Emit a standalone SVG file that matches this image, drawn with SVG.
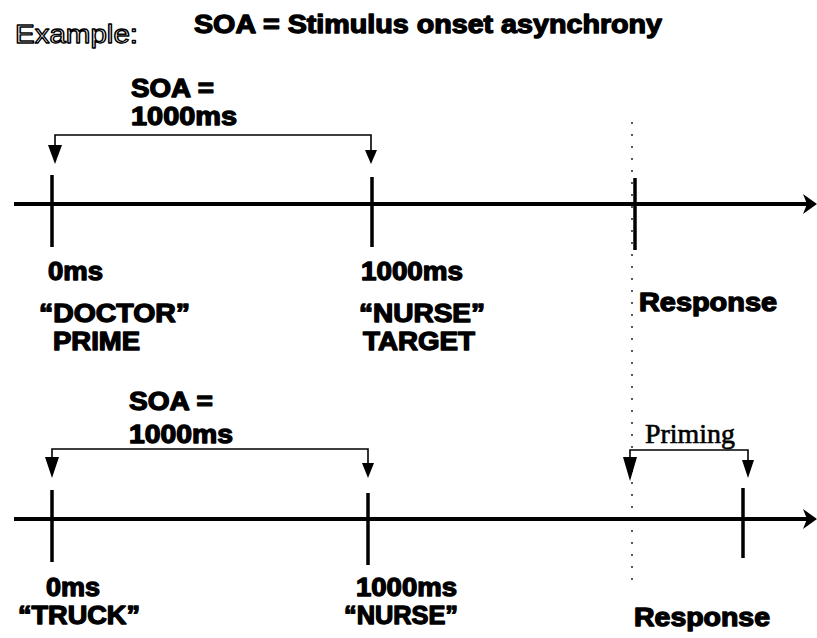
<svg xmlns="http://www.w3.org/2000/svg" width="817" height="638" viewBox="0 0 817 638">
<style>
.b{font-family:"Liberation Sans",Arial,sans-serif;font-weight:bold;font-size:25px;fill:#000;stroke:#000;stroke-width:1.3;stroke-linejoin:round}
.o{font-family:"Liberation Sans",Arial,sans-serif;font-size:25px;fill:#fff;stroke:#000;stroke-width:1.3;stroke-linejoin:round}
.s{font-family:"Liberation Serif","Times New Roman",serif;font-size:27px;fill:#000;stroke:#000;stroke-width:0.6}
.axis{stroke:#000;stroke-width:4;fill:none}
.tick{stroke:#000;stroke-width:3.5;fill:none}
.br{stroke:#000;stroke-width:1.6;fill:none}
.dot{stroke:#000;stroke-width:1.3;stroke-dasharray:2 10;fill:none}
.ah{fill:#000}
</style>
<rect width="817" height="638" fill="#fff"/>
<g id="header">
<text class="o" x="15" y="43" textLength="123" lengthAdjust="spacingAndGlyphs">Example:</text>
<text class="b" x="194" y="33" textLength="468" lengthAdjust="spacingAndGlyphs">SOA = Stimulus onset asynchrony</text>
</g>
<g id="timeline1">
<line class="axis" x1="14" y1="204" x2="808" y2="204"/>
<polygon class="ah" points="803,194 817,204 803,214 807,204"/>
<line class="tick" x1="52" y1="175" x2="52" y2="247"/>
<line class="tick" x1="372" y1="177" x2="372" y2="247"/>
<line class="tick" x1="635" y1="178" x2="635" y2="250"/>
</g>
<g id="timeline2">
<line class="axis" x1="14" y1="519" x2="808" y2="519"/>
<polygon class="ah" points="803,509 817,519 803,529 807,519"/>
<line class="tick" x1="52" y1="490" x2="52" y2="562"/>
<line class="tick" x1="368" y1="493" x2="368" y2="565"/>
<line class="tick" x1="743" y1="488" x2="743" y2="558"/>
</g>
<g id="labels1">
<text class="b" x="131" y="97" textLength="83" lengthAdjust="spacingAndGlyphs">SOA =</text>
<text class="b" x="131" y="125" textLength="106" lengthAdjust="spacingAndGlyphs">1000ms</text>
<text class="b" x="48" y="280" textLength="55" lengthAdjust="spacingAndGlyphs">0ms</text>
<text class="b" x="361" y="280" textLength="102" lengthAdjust="spacingAndGlyphs">1000ms</text>
<text class="b" x="39" y="322" textLength="151" lengthAdjust="spacingAndGlyphs">“DOCTOR”</text>
<text class="b" x="53" y="350" textLength="87" lengthAdjust="spacingAndGlyphs">PRIME</text>
<text class="b" x="359" y="322" textLength="126" lengthAdjust="spacingAndGlyphs">“NURSE”</text>
<text class="b" x="363" y="350" textLength="112" lengthAdjust="spacingAndGlyphs">TARGET</text>
<text class="b" x="639" y="311" textLength="138" lengthAdjust="spacingAndGlyphs">Response</text>
</g>
<g id="labels2">
<text class="b" x="129" y="410" textLength="84" lengthAdjust="spacingAndGlyphs">SOA =</text>
<text class="b" x="129" y="443" textLength="104" lengthAdjust="spacingAndGlyphs">1000ms</text>
<text class="b" x="46" y="596" textLength="54" lengthAdjust="spacingAndGlyphs">0ms</text>
<text class="b" x="356" y="596" textLength="101" lengthAdjust="spacingAndGlyphs">1000ms</text>
<text class="b" x="18" y="624" textLength="122" lengthAdjust="spacingAndGlyphs">“TRUCK”</text>
<text class="b" x="344" y="624" textLength="114" lengthAdjust="spacingAndGlyphs">“NURSE”</text>
<text class="b" x="634" y="626" textLength="136" lengthAdjust="spacingAndGlyphs">Response</text>
<text class="s" x="645" y="443" textLength="90" lengthAdjust="spacingAndGlyphs">Priming</text>
</g>
<g id="connectors">
<line class="dot" x1="632" y1="122" x2="632" y2="585"/>
<polyline class="br" points="55,147 55,135 371,135 371,152"/>
<polygon class="ah" points="48,145 62,145 55,164"/>
<polygon class="ah" points="365,150 377,150 371,164"/>
<polyline class="br" points="52,460 52,449 368,449 368,465"/>
<polygon class="ah" points="45,457 59,457 52,478"/>
<polygon class="ah" points="362,463 374,463 368,478"/>
<polyline class="br" points="630,459 630,450 748,450 748,462"/>
<polygon class="ah" points="623,457 637,457 630,481"/>
<polygon class="ah" points="742,460 754,460 748,478"/>
</g>
</svg>
